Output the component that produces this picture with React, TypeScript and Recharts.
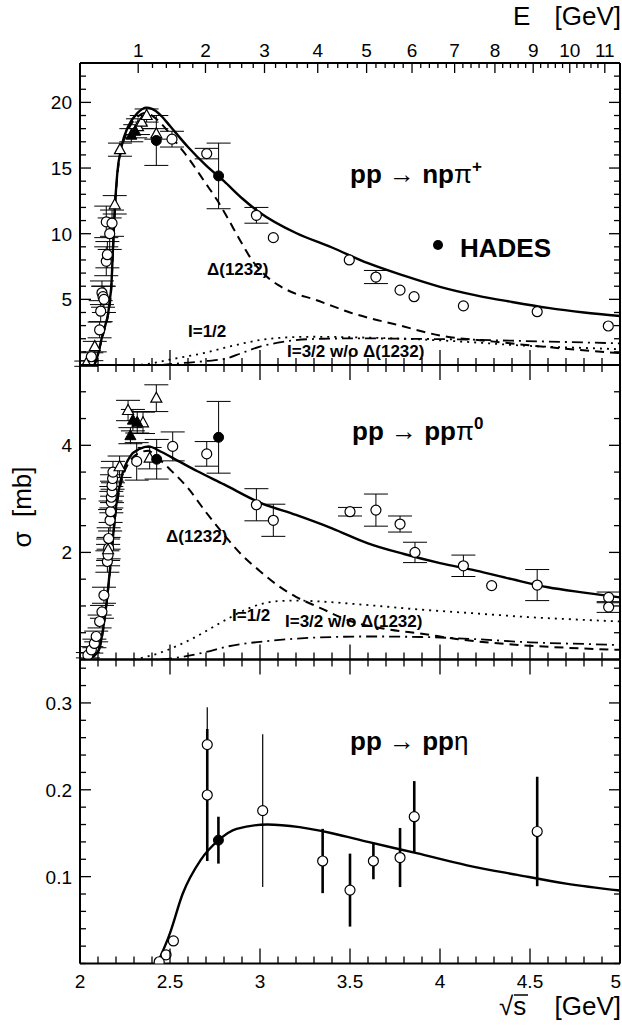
import React from 'react'
import { ComposedChart, Line, Scatter, XAxis, YAxis, ErrorBar } from 'recharts'

type Pt = [number, number]
type Dp = [number, number, number]

const FONT = '"Liberation Sans", Arial, Helvetica, sans-serif'
const M_P = 0.938272

// ---------- pp -> n p pi+  (sqrt(s) [GeV], sigma [mb]) ----------
const npTotal: Pt[] = [
  [2.08, 0], [2.1, 0.8], [2.12, 2.0], [2.14, 3.0], [2.156, 3.9], [2.166, 5.0], [2.174, 6.0],
  [2.183, 8.8], [2.193, 11.8], [2.207, 14.6], [2.23, 16.6], [2.267, 18.15], [2.32, 19.2],
  [2.368, 19.6], [2.4, 19.5], [2.45, 19.0], [2.5, 18.2], [2.6, 16.6], [2.7, 15.2], [2.8, 14.0],
  [2.9, 12.7], [3.0, 11.6], [3.2, 10.05], [3.4, 8.95], [3.6, 7.75], [3.8, 6.8], [4.0, 5.95],
  [4.2, 5.3], [4.4, 4.8], [4.6, 4.35], [4.8, 4.0], [5.0, 3.73],
]
const npDelta: Pt[] = [
  [2.08, 0], [2.1, 0.8], [2.12, 1.9], [2.14, 2.9], [2.156, 3.8], [2.174, 5.9], [2.183, 8.6],
  [2.193, 11.6], [2.207, 14.4], [2.23, 16.4], [2.267, 17.9], [2.32, 18.9], [2.36, 19.2],
  [2.4, 19.0], [2.45, 18.4], [2.5, 17.6], [2.537, 16.9], [2.6, 15.8], [2.7, 13.8], [2.76, 12.6],
  [2.82, 11.2], [2.889, 9.5], [2.96, 7.9], [3.04, 6.7], [3.1, 6.1], [3.185, 5.5], [3.3, 5.0],
  [3.4, 4.5], [3.5, 4.0], [3.6, 3.6], [3.75, 3.1], [4.0, 2.25], [4.3, 1.78], [4.67, 1.27], [5.0, 0.9],
]
const npIso12: Pt[] = [
  [2.3, 0], [2.38, 0.08], [2.444, 0.25], [2.55, 0.55], [2.685, 0.9], [2.8, 1.3], [2.907, 1.65],
  [3.0, 1.9], [3.15, 2.1], [3.3, 2.15], [3.55, 2.1], [3.8, 2.0], [4.1, 1.8], [4.5, 1.45],
  [4.8, 1.3], [5.0, 1.2],
]
const npIso32: Pt[] = [
  [2.45, 0], [2.556, 0.13], [2.7, 0.3], [2.815, 0.5], [2.9, 0.92], [3.0, 1.4], [3.1, 1.7],
  [3.2, 1.9], [3.35, 2.0], [3.55, 2.03], [3.8, 2.0], [4.1, 1.95], [4.4, 1.85], [4.7, 1.75], [5.0, 1.65],
]
const npOpenCircles: Dp[] = [
  [2.063, 0.63, 0.3], [2.109, 2.67, 0.6], [2.115, 4.1, 0.8], [2.122, 5.5, 0.9], [2.128, 5.2, 0.8],
  [2.133, 5.0, 1.0], [2.146, 7.9, 1.1], [2.152, 8.4, 1.0], [2.165, 10.0, 1.2], [2.146, 10.9, 1.2],
  [2.178, 10.8, 1.0], [2.511, 17.2, 0.6], [2.704, 16.1, 0.4], [2.98, 11.4, 0.6], [3.074, 9.7, 0],
  [3.496, 8.0, 0], [3.644, 6.7, 0.5], [3.778, 5.7, 0], [3.856, 5.2, 0], [4.13, 4.5, 0],
  [4.54, 4.06, 0], [4.935, 2.97, 0],
]
const npOpenTriangles: Dp[] = [
  [2.035, 0.1, 0.2], [2.082, 1.4, 0.4], [2.193, 12.2, 0.7], [2.222, 16.4, 0.5], [2.322, 18.15, 0.6],
  [2.343, 18.5, 0.5], [2.37, 19.0, 0.5], [2.424, 17.6, 0.4],
]
const npFilledTriangles: Dp[] = [[2.285, 17.5, 0.5], [2.307, 17.8, 0.5]]
const npHades: Dp[] = [[2.424, 17.1, 1.9], [2.77, 14.4, 2.5]]

// ---------- pp -> p p pi0 ----------
const ppTotal: Pt[] = [
  [2.04, 0], [2.1, 0.15], [2.14, 0.85], [2.17, 1.8], [2.2, 2.85], [2.23, 3.4], [2.28, 3.8],
  [2.33, 3.93], [2.38, 3.98], [2.45, 3.88], [2.55, 3.7], [2.65, 3.52], [2.8, 3.27], [3.0, 2.93],
  [3.2, 2.7], [3.4, 2.45], [3.6, 2.17], [3.8, 1.97], [4.0, 1.8], [4.2, 1.66], [4.4, 1.5],
  [4.6, 1.35], [4.8, 1.25], [5.0, 1.16],
]
const ppDelta: Pt[] = [
  [2.04, 0], [2.1, 0.14], [2.14, 0.82], [2.17, 1.75], [2.2, 2.78], [2.23, 3.32], [2.28, 3.72],
  [2.33, 3.86], [2.38, 3.9], [2.42, 3.8], [2.5, 3.55], [2.6, 3.2], [2.7, 2.75], [2.8, 2.33],
  [2.9, 1.95], [3.0, 1.65], [3.1, 1.38], [3.2, 1.17], [3.33, 0.97], [3.5, 0.72], [3.7, 0.57],
  [3.9, 0.48], [4.1, 0.38], [4.4, 0.28], [4.7, 0.22], [5.0, 0.18],
]
const ppIso12: Pt[] = [
  [2.3, 0], [2.44, 0.12], [2.55, 0.27], [2.63, 0.4], [2.72, 0.57], [2.815, 0.75], [2.9, 0.9],
  [3.0, 1.03], [3.1, 1.09], [3.2, 1.1], [3.35, 1.08], [3.55, 1.03], [3.9, 0.93], [4.2, 0.86],
  [4.5, 0.79], [4.8, 0.74], [5.0, 0.71],
]
const ppIso32: Pt[] = [
  [2.45, 0], [2.55, 0.04], [2.7, 0.14], [2.815, 0.24], [2.9, 0.29], [3.0, 0.33], [3.2, 0.39],
  [3.4, 0.42], [3.6, 0.43], [3.9, 0.42], [4.2, 0.38], [4.5, 0.32], [4.8, 0.29], [5.0, 0.27],
]
const ppOpenCircles: Dp[] = [
  [2.044, 0.08, 0.05], [2.063, 0.18, 0.06], [2.08, 0.3, 0.08], [2.09, 0.43, 0.1], [2.109, 0.71, 0.12],
  [2.122, 0.89, 0.12], [2.133, 1.2, 0.15], [2.152, 1.83, 0.2], [2.156, 1.95, 0.2], [2.159, 2.08, 0.2],
  [2.159, 2.26, 0.2], [2.167, 2.6, 0.2], [2.17, 2.76, 0.2], [2.174, 2.94, 0.2], [2.174, 3.03, 0.2],
  [2.178, 3.13, 0.2], [2.178, 3.25, 0.2], [2.181, 3.38, 0.2], [2.183, 3.5, 0.2], [2.315, 3.7, 0.35],
  [2.515, 3.98, 0.27], [2.704, 3.84, 0.23], [2.98, 2.89, 0.3], [3.074, 2.6, 0.3], [3.5, 2.76, 0.08],
  [3.644, 2.79, 0.3], [3.778, 2.53, 0.15], [3.861, 2.0, 0.19], [4.13, 1.75, 0.2], [4.287, 1.38, 0],
  [4.54, 1.39, 0.29], [4.937, 1.16, 0.1], [4.937, 0.98, 0.1],
]
const ppOpenTriangles: Dp[] = [
  [2.156, 2.05, 0.2], [2.22, 3.6, 0.2], [2.267, 4.65, 0.19], [2.35, 4.42, 0.2], [2.387, 3.76, 0.2],
  [2.424, 4.88, 0.25],
]
const ppFilledTriangles: Dp[] = [[2.28, 4.18, 0.15], [2.294, 4.47, 0.2], [2.318, 4.43, 0.2]]
const ppHades: Dp[] = [[2.426, 3.74, 0.37], [2.77, 4.15, 0.67]]

// ---------- pp -> p p eta ----------
const etaTotal: Pt[] = [
  [2.43, 0], [2.5, 0.035], [2.57, 0.08], [2.67, 0.119], [2.77, 0.142], [2.87, 0.155], [3.04, 0.16],
  [3.22, 0.157], [3.4, 0.15], [3.6, 0.14], [3.87, 0.127], [4.15, 0.113], [4.43, 0.102],
  [4.7, 0.092], [5.0, 0.084],
]
const etaOpenThick: Dp[] = [
  [2.44, 0.002, 0], [2.478, 0.01, 0], [2.519, 0.026, 0], [2.707, 0.194, 0.076], [3.348, 0.118, 0.037],
  [3.5, 0.0845, 0.042], [3.63, 0.118, 0.021], [3.778, 0.122, 0.034], [3.857, 0.169, 0.041],
  [4.54, 0.152, 0.063],
]
const etaOpenThin: Dp[] = [[2.707, 0.252, 0.043], [3.015, 0.176, 0.088]]
const etaHades: Dp[] = [[2.769, 0.142, 0.027]]

// ---------- axes ----------
const X_MAJOR = [2, 2.5, 3, 3.5, 4, 4.5, 5]
const E_MAJOR = [1, 2, 3, 4, 5, 6, 7, 8, 9, 10, 11]
const NP_Y_MAJOR = [5, 10, 15, 20]
const PP_Y_MAJOR = [2, 4]
const ETA_Y_MAJOR = [0.1, 0.2, 0.3]

const range = (a: number, b: number, step: number) => {
  const out: number[] = []
  const n = Math.round((b - a) / step)
  for (let i = 0; i <= n; i++) out.push(Math.round((a + i * step) * 10000) / 10000)
  return out
}
// beam kinetic energy -> sqrt(s) for pp
const sqrtS = (e: number) => Math.sqrt(4 * M_P * M_P + 2 * M_P * e)
const X_TICKS = range(2, 5, 0.1)
const E_TICKS = range(E_MAJOR[0], E_MAJOR[E_MAJOR.length - 1], 0.2).map(sqrtS)

const near = (list: number[], v: number) => list.some((m) => Math.abs(m - v) < 1e-6)
const AXIS = { stroke: '#000', strokeWidth: 2 }

function BottomTick(props: any) {
  const { x, y, payload, labels } = props
  const major = near(X_MAJOR, payload.value)
  const last = Math.abs(payload.value - 5) < 1e-6
  return (
    <g>
      <line x1={x} x2={x} y1={y} y2={y - (major ? 15 : 7)} stroke="#000" strokeWidth={1.3} />
      {labels && major && (
        <text
          x={last ? x + 1 : x}
          y={y + 24}
          textAnchor={last ? 'end' : 'middle'}
          fontSize={19}
          fontFamily={FONT}
          fill="#000"
        >
          {payload.value}
        </text>
      )}
    </g>
  )
}

function TopTick(props: any) {
  const { x, y, payload } = props
  const major = near(X_MAJOR, payload.value)
  return <line x1={x} x2={x} y1={y} y2={y + (major ? 15 : 7)} stroke="#000" strokeWidth={1.3} />
}

function ETick(props: any) {
  const { x, y, payload } = props
  const e = (payload.value * payload.value - 4 * M_P * M_P) / (2 * M_P)
  const major = Math.abs(e - Math.round(e)) < 0.01
  return (
    <g>
      <line x1={x} x2={x} y1={y} y2={y + (major ? 10 : 5)} stroke="#000" strokeWidth={1.3} />
      {major && (
        <text x={x} y={y - 6} textAnchor="middle" fontSize={19} fontFamily={FONT} fill="#000">
          {Math.round(e)}
        </text>
      )}
    </g>
  )
}

function LeftTick(props: any) {
  const { x, y, payload, majors } = props
  const major = near(majors, payload.value)
  return (
    <g>
      <line x1={x} x2={x + (major ? 11 : 6)} y1={y} y2={y} stroke="#000" strokeWidth={1.3} />
      {major && (
        <text x={x - 8} y={y + 7} textAnchor="end" fontSize={19} fontFamily={FONT} fill="#000">
          {payload.value}
        </text>
      )}
    </g>
  )
}

function RightTick(props: any) {
  const { x, y, payload, majors } = props
  const major = near(majors, payload.value)
  return <line x1={x} x2={x - (major ? 11 : 6)} y1={y} y2={y} stroke="#000" strokeWidth={1.3} />
}

const OpenCircle = (p: any) => <circle cx={p.cx} cy={p.cy} r={5} fill="#fff" stroke="#000" strokeWidth={1.2} />
const FilledCircle = (p: any) => <circle cx={p.cx} cy={p.cy} r={5} fill="#000" stroke="#000" strokeWidth={1} />
const OpenTriangle = (p: any) => (
  <polygon points={`${p.cx},${p.cy - 6} ${p.cx - 5.5},${p.cy + 4} ${p.cx + 5.5},${p.cy + 4}`} fill="#fff" stroke="#000" strokeWidth={1.2} />
)
const FilledTriangle = (p: any) => (
  <polygon points={`${p.cx},${p.cy - 6} ${p.cx - 5.5},${p.cy + 4} ${p.cx + 5.5},${p.cy + 4}`} fill="#000" stroke="#000" strokeWidth={1} />
)

type Curve = { data: Pt[]; dash?: string; width: number }
type PointSet = { data: Dp[]; shape: (p: any) => React.ReactElement; cap: number; ew: number }

const toXY = (d: Pt[]) => d.map(([x, y]) => ({ x, y }))
const toXYE = (d: Dp[]) => d.map(([x, y, e]) => ({ x, y, e }))

const DASHED = '9 6'
const DOTTED = '2 5'
const DASHDOT = '11 5 2 5'

// plot area spans x 80..620; each axis takes 1px of the margin
function Panel(props: {
  top: number
  height: number
  plotTop: number
  plotBottom: number
  yMax: number
  yStep: number
  yMajor: number[]
  curves: Curve[]
  points: PointSet[]
  eAxis?: boolean
  xLabels?: boolean
}) {
  const { top, height, plotTop, plotBottom, yMax, yStep, yMajor, curves, points, eAxis, xLabels } = props
  const yTicks = range(0, yMax, yStep)
  const margin = { top: plotTop - 1, right: 1, bottom: plotBottom - 1, left: 79 }
  return (
    <div style={{ position: 'absolute', left: 0, top }}>
      <ComposedChart width={622} height={height} margin={margin}>
        <XAxis
          xAxisId="b"
          type="number"
          dataKey="x"
          domain={[2, 5]}
          allowDataOverflow
          ticks={X_TICKS}
          interval={0}
          height={1}
          tickSize={0}
          tickMargin={0}
          tickLine={false}
          axisLine={AXIS}
          tick={(p: any) => <BottomTick {...p} labels={xLabels} />}
        />
        <XAxis
          xAxisId="t"
          orientation="top"
          type="number"
          dataKey="x"
          domain={[2, 5]}
          allowDataOverflow
          ticks={eAxis ? E_TICKS : X_TICKS}
          interval={0}
          height={1}
          tickSize={0}
          tickMargin={0}
          tickLine={false}
          axisLine={AXIS}
          tick={(p: any) => (eAxis ? <ETick {...p} /> : <TopTick {...p} />)}
        />
        <YAxis
          yAxisId="l"
          type="number"
          dataKey="y"
          domain={[0, yMax]}
          allowDataOverflow
          ticks={yTicks}
          interval={0}
          width={1}
          tickSize={0}
          tickMargin={0}
          tickLine={false}
          axisLine={AXIS}
          tick={(p: any) => <LeftTick {...p} majors={yMajor} />}
        />
        <YAxis
          yAxisId="r"
          orientation="right"
          type="number"
          dataKey="y"
          domain={[0, yMax]}
          allowDataOverflow
          ticks={yTicks}
          interval={0}
          width={1}
          tickSize={0}
          tickMargin={0}
          tickLine={false}
          axisLine={AXIS}
          tick={(p: any) => <RightTick {...p} majors={yMajor} />}
        />
        {curves.map((c, i) => (
          <Line
            key={`c${i}`}
            xAxisId="b"
            yAxisId="l"
            data={toXY(c.data)}
            dataKey="y"
            type="monotone"
            dot={false}
            activeDot={false}
            stroke="#000"
            strokeWidth={c.width}
            strokeDasharray={c.dash}
            isAnimationActive={false}
          />
        ))}
        {points.map((s, i) => (
          <Scatter
            key={`s${i}`}
            xAxisId="b"
            yAxisId="l"
            data={toXYE(s.data)}
            dataKey="y"
            shape={s.shape}
            isAnimationActive={false}
          >
            <ErrorBar dataKey="e" direction="y" width={s.cap} stroke="#000" strokeWidth={s.ew} />
          </Scatter>
        ))}
      </ComposedChart>
    </div>
  )
}

export default function App() {
  return (
    <div
      style={{
        position: 'absolute',
        left: 0,
        top: 0,
        width: 622,
        height: 1028,
        background: '#fff',
        fontFamily: FONT,
        overflow: 'hidden',
      }}
    >
      <Panel
        top={0}
        height={370}
        plotTop={63}
        plotBottom={5}
        yMax={23}
        yStep={1}
        yMajor={NP_Y_MAJOR}
        eAxis
        curves={[
          { data: npIso12, dash: DOTTED, width: 1.8 },
          { data: npIso32, dash: DASHDOT, width: 1.8 },
          { data: npDelta, dash: DASHED, width: 2 },
          { data: npTotal, width: 2.4 },
        ]}
        points={[
          { data: npOpenCircles, shape: OpenCircle, cap: 12, ew: 1 },
          { data: npOpenTriangles, shape: OpenTriangle, cap: 12, ew: 1 },
          { data: npFilledTriangles, shape: FilledTriangle, cap: 12, ew: 1 },
          { data: npHades, shape: FilledCircle, cap: 12, ew: 1 },
        ]}
      />
      <Panel
        top={360}
        height={305}
        plotTop={5}
        plotBottom={5.5}
        yMax={5.5}
        yStep={0.5}
        yMajor={PP_Y_MAJOR}
        curves={[
          { data: ppIso12, dash: DOTTED, width: 1.8 },
          { data: ppIso32, dash: DASHDOT, width: 1.8 },
          { data: ppDelta, dash: DASHED, width: 2 },
          { data: ppTotal, width: 2.4 },
        ]}
        points={[
          { data: ppOpenCircles, shape: OpenCircle, cap: 12, ew: 1 },
          { data: ppOpenTriangles, shape: OpenTriangle, cap: 12, ew: 1 },
          { data: ppFilledTriangles, shape: FilledTriangle, cap: 12, ew: 1 },
          { data: ppHades, shape: FilledCircle, cap: 12, ew: 1 },
        ]}
      />
      <Panel
        top={654}
        height={374}
        plotTop={5.5}
        plotBottom={64.5}
        yMax={0.35}
        yStep={0.02}
        yMajor={ETA_Y_MAJOR}
        xLabels
        curves={[{ data: etaTotal, width: 2.4 }]}
        points={[
          { data: etaOpenThin, shape: OpenCircle, cap: 0, ew: 1.2 },
          { data: etaOpenThick, shape: OpenCircle, cap: 0, ew: 2.6 },
          { data: etaHades, shape: FilledCircle, cap: 0, ew: 2.6 },
        ]}
      />
      <svg
        width={622}
        height={1028}
        style={{ position: 'absolute', left: 0, top: 0, pointerEvents: 'none' }}
        fontFamily={FONT}
      >
        <text x={513} y={25} fontSize={26}>E</text>
        <text x={621} y={25} fontSize={26} textAnchor="end">[GeV]</text>
        <text x={499} y={1015} fontSize={26}>√s</text>
        <line x1={514} x2={528} y1={995} y2={995} stroke="#000" strokeWidth={1.5} />
        <text x={621} y={1015} fontSize={26} textAnchor="end">[GeV]</text>
        <text transform="translate(31,507) rotate(-90)" fontSize={26} textAnchor="middle" style={{ whiteSpace: 'pre' }}>
          σ  [mb]
        </text>

        <text x={350} y={183} fontSize={26} fontWeight="bold" style={{ whiteSpace: 'pre' }}>
          pp <tspan fontWeight="normal">→</tspan> np<tspan fontWeight="normal">π</tspan>
          <tspan dy={-11} fontSize={17}>+</tspan>
        </text>
        <circle cx={438} cy={245} r={5} fill="#000" />
        <text x={460} y={257} fontSize={26} fontWeight="bold">HADES</text>
        <text x={207} y={275} fontSize={17} fontWeight="bold">Δ(1232)</text>
        <text x={188} y={337} fontSize={17} fontWeight="bold">I=1/2</text>
        <text x={287} y={357} fontSize={17} fontWeight="bold">I=3/2 w/o Δ(1232)</text>

        <text x={352} y={440} fontSize={26} fontWeight="bold" style={{ whiteSpace: 'pre' }}>
          pp <tspan fontWeight="normal">→</tspan> pp<tspan fontWeight="normal">π</tspan>
          <tspan dy={-11} fontSize={17}>0</tspan>
        </text>
        <text x={166} y={542} fontSize={17} fontWeight="bold">Δ(1232)</text>
        <text x={232} y={621} fontSize={17} fontWeight="bold">I=1/2</text>
        <text x={285} y={627} fontSize={17} fontWeight="bold">I=3/2 w/o Δ(1232)</text>

        <text x={350} y={750} fontSize={26} fontWeight="bold" style={{ whiteSpace: 'pre' }}>
          pp <tspan fontWeight="normal">→</tspan> pp<tspan fontWeight="normal">η</tspan>
        </text>
      </svg>
    </div>
  )
}
